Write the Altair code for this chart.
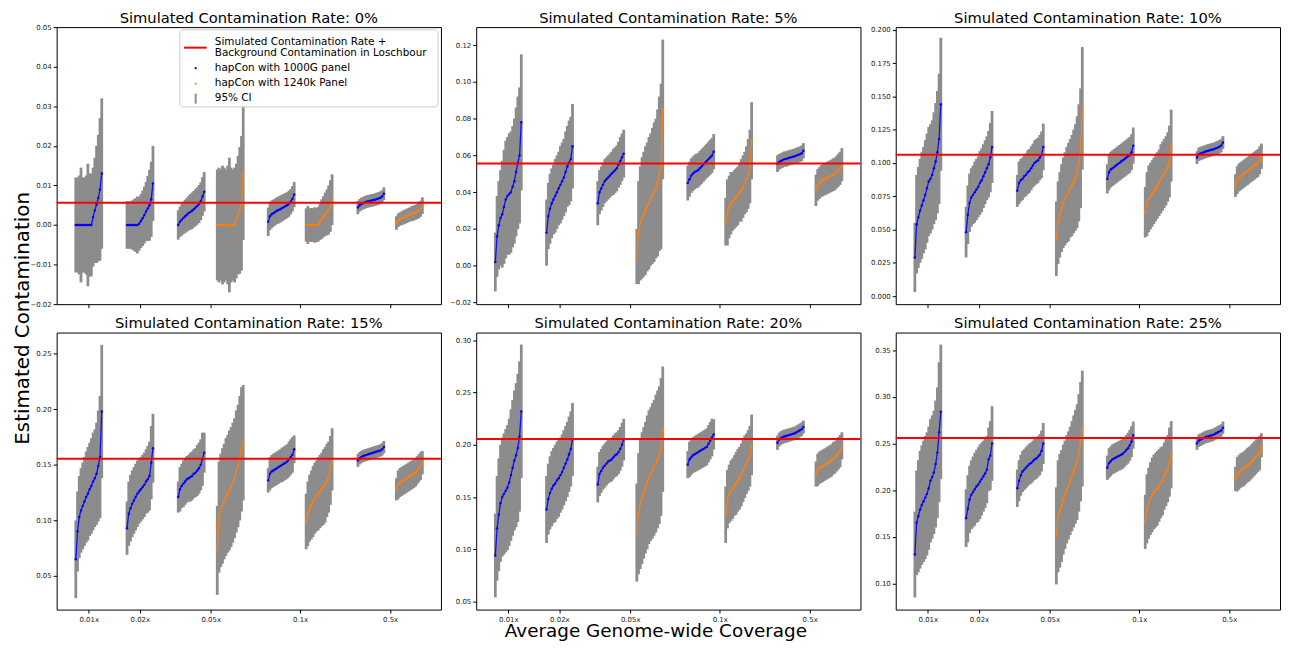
import altair as alt
import pandas as pd

# ---------------- data ----------------
rates = [0, 5, 10, 15, 20, 25]
red_levels = [0.0056, 0.0556, 0.1061, 0.1556, 0.2056, 0.2560]

coverage_labels = ["0.01x", "0.02x", "0.05x", "0.1x", "0.5x"]
coverage_ticks = [50, 234.5, 490.5, 813.5, 1138.5]
group_coverage = ["0.01x", "0.02x", "0.05x", "0.05x", "0.1x", "0.1x", "0.5x", "0.5x"]
group_panel = ["1000G", "1000G", "1000G", "1240k", "1000G", "1240k", "1000G", "1240k"]
group_offset = [0, 185, 370, 511, 695, 832, 1019, 1158]
n_per_group = 16

EST_00 = [
    [0, 0, 0, 0, 0, 0, 0, 0, 0, 0, 0.002, 0.0037, 0.0052, 0.0068, 0.009, 0.013],
    [0, 0, 0, 0, 0, 0, 0, 0.0003, 0.001, 0.0017, 0.0025, 0.0034, 0.0042, 0.005, 0.0065, 0.0105],
    [0.0, 0.0008, 0.0013, 0.0018, 0.0022, 0.0026, 0.003, 0.0033, 0.0036, 0.004, 0.0044, 0.0048, 0.0053, 0.006, 0.0072, 0.0084],
    [0, 0, 0, 0, 0, 0, 0, 0, 0, 0, 0, 0.001, 0.0025, 0.0037, 0.0055, 0.0132],
    [0.0008, 0.0022, 0.0027, 0.003, 0.0033, 0.0036, 0.0038, 0.004, 0.0043, 0.0045, 0.0048, 0.005, 0.0054, 0.0059, 0.0066, 0.0077],
    [0, 0, 0, 0, 0, 0, 0, 0.0002, 0.0008, 0.0015, 0.0021, 0.0027, 0.0032, 0.0038, 0.0048, 0.0064],
    [0.0044, 0.005, 0.0053, 0.0055, 0.0057, 0.0059, 0.006, 0.0061, 0.0062, 0.0063, 0.0064, 0.0066, 0.0067, 0.0069, 0.0072, 0.0079],
    [0.0005, 0.0012, 0.0015, 0.0017, 0.0019, 0.0021, 0.0023, 0.0025, 0.0027, 0.0029, 0.003, 0.0032, 0.0034, 0.0037, 0.0041, 0.0049],
]
HW_00 = [
    [0.012, 0.012, 0.0125, 0.0145, 0.012, 0.012, 0.0125, 0.0155, 0.013, 0.013, 0.0125, 0.0133, 0.0148, 0.016, 0.018, 0.019],
    [0.006, 0.006, 0.006, 0.0062, 0.0065, 0.0068, 0.0072, 0.0068, 0.0068, 0.007, 0.0072, 0.0075, 0.0082, 0.009, 0.0095, 0.0095],
    [0.0037, 0.0038, 0.004, 0.0041, 0.0042, 0.0043, 0.0044, 0.0045, 0.0046, 0.0046, 0.0047, 0.0047, 0.0048, 0.0048, 0.0049, 0.005],
    [0.014, 0.0145, 0.014, 0.015, 0.0145, 0.014, 0.015, 0.017, 0.0145, 0.014, 0.0145, 0.0145, 0.015, 0.016, 0.017, 0.017],
    [0.0036, 0.0035, 0.0035, 0.0034, 0.0034, 0.0034, 0.0034, 0.0034, 0.0034, 0.0033, 0.0033, 0.0033, 0.0033, 0.0032, 0.0032, 0.0032],
    [0.0042, 0.0048, 0.0042, 0.0043, 0.0042, 0.0045, 0.0043, 0.0044, 0.0046, 0.005, 0.0052, 0.0055, 0.0058, 0.0062, 0.0065, 0.0064],
    [0.0017, 0.0016, 0.0016, 0.0016, 0.0016, 0.0016, 0.0016, 0.0016, 0.0016, 0.0016, 0.0016, 0.0016, 0.0016, 0.0016, 0.0016, 0.0016],
    [0.0017, 0.0017, 0.0017, 0.0017, 0.0018, 0.0018, 0.0018, 0.0018, 0.0018, 0.0019, 0.0019, 0.0019, 0.0019, 0.002, 0.002, 0.0021],
]

EST_05 = [
    [0.002, 0.016, 0.022, 0.026, 0.028, 0.032, 0.036, 0.038, 0.039, 0.040, 0.043, 0.046, 0.051, 0.056, 0.060, 0.078],
    [0.018, 0.027, 0.031, 0.034, 0.036, 0.038, 0.040, 0.042, 0.044, 0.046, 0.048, 0.051, 0.054, 0.056, 0.058, 0.065],
    [0.034, 0.040, 0.042, 0.044, 0.046, 0.047, 0.048, 0.049, 0.050, 0.051, 0.052, 0.053, 0.055, 0.057, 0.059, 0.061],
    [0.005, 0.018, 0.023, 0.026, 0.028, 0.030, 0.032, 0.034, 0.036, 0.038, 0.040, 0.042, 0.045, 0.050, 0.054, 0.085],
    [0.045, 0.047, 0.049, 0.050, 0.051, 0.0515, 0.052, 0.053, 0.054, 0.055, 0.056, 0.057, 0.058, 0.059, 0.060, 0.062],
    [0.024, 0.029, 0.032, 0.034, 0.035, 0.036, 0.037, 0.038, 0.040, 0.041, 0.043, 0.045, 0.047, 0.050, 0.054, 0.068],
    [0.0555, 0.0565, 0.057, 0.0575, 0.058, 0.058, 0.0585, 0.0588, 0.059, 0.0593, 0.0596, 0.06, 0.0603, 0.0607, 0.0612, 0.0625],
    [0.041, 0.044, 0.045, 0.046, 0.0465, 0.047, 0.0475, 0.048, 0.0485, 0.049, 0.0495, 0.050, 0.051, 0.052, 0.053, 0.055],
]
HW_05 = [
    [0.016, 0.022, 0.024, 0.026, 0.029, 0.031, 0.032, 0.032, 0.033, 0.033, 0.033, 0.034, 0.035, 0.036, 0.037, 0.037],
    [0.018, 0.018, 0.019, 0.019, 0.019, 0.02, 0.02, 0.02, 0.021, 0.021, 0.021, 0.022, 0.022, 0.023, 0.023, 0.023],
    [0.012, 0.012, 0.012, 0.012, 0.012, 0.012, 0.012, 0.012, 0.012, 0.0125, 0.0125, 0.0125, 0.0125, 0.013, 0.013, 0.013],
    [0.015, 0.028, 0.031, 0.033, 0.034, 0.035, 0.035, 0.036, 0.036, 0.037, 0.038, 0.038, 0.04, 0.042, 0.045, 0.038],
    [0.0095, 0.0095, 0.0094, 0.0094, 0.0094, 0.0094, 0.0094, 0.0094, 0.0094, 0.0094, 0.0094, 0.0094, 0.0095, 0.0095, 0.0095, 0.0096],
    [0.013, 0.018, 0.017, 0.017, 0.016, 0.016, 0.016, 0.016, 0.016, 0.017, 0.017, 0.017, 0.018, 0.019, 0.02, 0.021],
    [0.0045, 0.0043, 0.0042, 0.0042, 0.0042, 0.0042, 0.0042, 0.0042, 0.0042, 0.0042, 0.0042, 0.0042, 0.0042, 0.0042, 0.0043, 0.0042],
    [0.0085, 0.0086, 0.0086, 0.0087, 0.0087, 0.0087, 0.0088, 0.0088, 0.0088, 0.0088, 0.0089, 0.0089, 0.0089, 0.009, 0.009, 0.009],
]

EST_10 = [
    [0.029, 0.054, 0.059, 0.064, 0.068, 0.072, 0.076, 0.081, 0.086, 0.088, 0.091, 0.096, 0.101, 0.108, 0.118, 0.144],
    [0.048, 0.061, 0.070, 0.074, 0.076, 0.078, 0.080, 0.082, 0.085, 0.087, 0.090, 0.093, 0.096, 0.099, 0.104, 0.112],
    [0.079, 0.085, 0.087, 0.088, 0.090, 0.091, 0.093, 0.094, 0.096, 0.098, 0.100, 0.101, 0.102, 0.104, 0.106, 0.112],
    [0.043, 0.055, 0.061, 0.066, 0.070, 0.073, 0.076, 0.078, 0.081, 0.083, 0.086, 0.089, 0.093, 0.100, 0.111, 0.141],
    [0.088, 0.093, 0.095, 0.096, 0.097, 0.098, 0.099, 0.100, 0.101, 0.102, 0.103, 0.104, 0.105, 0.106, 0.108, 0.113],
    [0.063, 0.069, 0.073, 0.075, 0.077, 0.079, 0.081, 0.083, 0.085, 0.088, 0.090, 0.092, 0.094, 0.097, 0.101, 0.113],
    [0.104, 0.1065, 0.107, 0.1075, 0.108, 0.1085, 0.109, 0.1093, 0.1097, 0.110, 0.1105, 0.111, 0.1115, 0.1122, 0.113, 0.1153],
    [0.083, 0.087, 0.089, 0.090, 0.091, 0.092, 0.093, 0.094, 0.095, 0.096, 0.097, 0.098, 0.099, 0.100, 0.102, 0.105],
]
HW_10 = [
    [0.026, 0.037, 0.038, 0.039, 0.04, 0.04, 0.041, 0.041, 0.041, 0.041, 0.041, 0.042, 0.044, 0.046, 0.049, 0.05],
    [0.019, 0.022, 0.022, 0.022, 0.022, 0.023, 0.023, 0.023, 0.024, 0.024, 0.024, 0.024, 0.024, 0.025, 0.026, 0.027],
    [0.012, 0.016, 0.016, 0.016, 0.016, 0.016, 0.0165, 0.0165, 0.0165, 0.0165, 0.017, 0.017, 0.017, 0.017, 0.0175, 0.0175],
    [0.028, 0.031, 0.032, 0.033, 0.034, 0.035, 0.036, 0.037, 0.037, 0.038, 0.039, 0.040, 0.042, 0.044, 0.045, 0.046],
    [0.011, 0.0135, 0.0134, 0.0134, 0.0134, 0.0134, 0.0134, 0.0134, 0.0134, 0.0134, 0.0134, 0.0134, 0.0135, 0.0135, 0.0135, 0.0136],
    [0.019, 0.024, 0.025, 0.025, 0.025, 0.025, 0.025, 0.025, 0.025, 0.026, 0.026, 0.026, 0.026, 0.026, 0.027, 0.027],
    [0.0048, 0.005, 0.005, 0.005, 0.005, 0.005, 0.005, 0.005, 0.005, 0.005, 0.005, 0.005, 0.005, 0.005, 0.005, 0.0048],
    [0.0085, 0.0105, 0.0105, 0.0105, 0.0105, 0.0105, 0.0105, 0.0105, 0.0105, 0.0105, 0.0105, 0.0105, 0.0105, 0.0105, 0.0105, 0.0095],
]

EST_15 = [
    [0.065, 0.090, 0.103, 0.109, 0.113, 0.117, 0.121, 0.124, 0.128, 0.131, 0.135, 0.138, 0.142, 0.149, 0.157, 0.198],
    [0.093, 0.106, 0.111, 0.115, 0.118, 0.121, 0.124, 0.126, 0.128, 0.130, 0.132, 0.135, 0.137, 0.140, 0.152, 0.165],
    [0.121, 0.128, 0.131, 0.133, 0.135, 0.137, 0.138, 0.139, 0.140, 0.142, 0.143, 0.145, 0.147, 0.150, 0.155, 0.161],
    [0.073, 0.103, 0.109, 0.113, 0.117, 0.121, 0.124, 0.127, 0.130, 0.134, 0.138, 0.144, 0.149, 0.156, 0.164, 0.170],
    [0.136, 0.142, 0.144, 0.145, 0.146, 0.147, 0.148, 0.149, 0.150, 0.151, 0.152, 0.153, 0.155, 0.157, 0.159, 0.164],
    [0.099, 0.106, 0.111, 0.114, 0.117, 0.120, 0.122, 0.124, 0.126, 0.128, 0.130, 0.132, 0.136, 0.139, 0.145, 0.155],
    [0.154, 0.156, 0.157, 0.158, 0.1585, 0.159, 0.1595, 0.160, 0.1605, 0.161, 0.1615, 0.162, 0.1625, 0.163, 0.164, 0.166],
    [0.128, 0.132, 0.134, 0.135, 0.136, 0.137, 0.138, 0.139, 0.140, 0.141, 0.142, 0.143, 0.145, 0.147, 0.149, 0.152],
]
HW_15 = [
    [0.035, 0.036, 0.037, 0.038, 0.039, 0.040, 0.041, 0.042, 0.042, 0.043, 0.044, 0.044, 0.046, 0.05, 0.055, 0.06],
    [0.024, 0.029, 0.03, 0.03, 0.03, 0.03, 0.03, 0.029, 0.029, 0.029, 0.029, 0.029, 0.03, 0.031, 0.033, 0.031],
    [0.014, 0.02, 0.02, 0.021, 0.021, 0.021, 0.021, 0.022, 0.022, 0.022, 0.022, 0.023, 0.023, 0.023, 0.024, 0.018],
    [0.04, 0.05, 0.051, 0.052, 0.052, 0.053, 0.053, 0.054, 0.054, 0.054, 0.054, 0.055, 0.055, 0.056, 0.056, 0.052],
    [0.011, 0.015, 0.015, 0.015, 0.015, 0.015, 0.015, 0.015, 0.0155, 0.0155, 0.0155, 0.0155, 0.016, 0.016, 0.016, 0.0125],
    [0.025, 0.029, 0.03, 0.031, 0.032, 0.032, 0.032, 0.033, 0.033, 0.033, 0.034, 0.034, 0.033, 0.032, 0.031, 0.028],
    [0.0058, 0.0056, 0.0055, 0.0055, 0.0055, 0.0055, 0.0055, 0.0055, 0.0055, 0.0055, 0.0055, 0.0055, 0.0055, 0.0055, 0.0056, 0.0056],
    [0.01, 0.013, 0.013, 0.013, 0.013, 0.013, 0.013, 0.013, 0.013, 0.013, 0.0128, 0.0128, 0.0127, 0.0126, 0.0125, 0.0105],
]

EST_20 = [
    [0.094, 0.120, 0.133, 0.144, 0.150, 0.153, 0.156, 0.159, 0.164, 0.171, 0.178, 0.185, 0.190, 0.197, 0.208, 0.232],
    [0.138, 0.148, 0.154, 0.158, 0.161, 0.163, 0.166, 0.168, 0.171, 0.174, 0.178, 0.182, 0.186, 0.191, 0.196, 0.205],
    [0.162, 0.172, 0.175, 0.178, 0.180, 0.182, 0.184, 0.185, 0.186, 0.188, 0.190, 0.191, 0.193, 0.196, 0.200, 0.205],
    [0.116, 0.134, 0.143, 0.149, 0.154, 0.159, 0.164, 0.169, 0.172, 0.175, 0.178, 0.182, 0.186, 0.190, 0.198, 0.215],
    [0.181, 0.186, 0.188, 0.190, 0.191, 0.192, 0.193, 0.194, 0.195, 0.196, 0.197, 0.198, 0.201, 0.204, 0.207, 0.210],
    [0.133, 0.148, 0.153, 0.156, 0.158, 0.161, 0.163, 0.166, 0.168, 0.171, 0.175, 0.179, 0.182, 0.185, 0.189, 0.200],
    [0.202, 0.205, 0.2065, 0.2075, 0.208, 0.2085, 0.209, 0.2095, 0.210, 0.2105, 0.211, 0.212, 0.213, 0.214, 0.215, 0.217],
    [0.172, 0.176, 0.178, 0.179, 0.180, 0.181, 0.182, 0.183, 0.184, 0.185, 0.187, 0.188, 0.190, 0.192, 0.194, 0.199],
]
HW_20 = [
    [0.04, 0.05, 0.054, 0.056, 0.057, 0.058, 0.059, 0.06, 0.061, 0.063, 0.065, 0.067, 0.069, 0.071, 0.072, 0.064],
    [0.032, 0.034, 0.035, 0.036, 0.036, 0.037, 0.037, 0.037, 0.036, 0.036, 0.036, 0.036, 0.036, 0.036, 0.036, 0.035],
    [0.017, 0.021, 0.021, 0.021, 0.021, 0.021, 0.021, 0.021, 0.021, 0.021, 0.021, 0.021, 0.021, 0.021, 0.021, 0.02],
    [0.047, 0.058, 0.062, 0.063, 0.063, 0.063, 0.064, 0.064, 0.064, 0.065, 0.065, 0.066, 0.066, 0.066, 0.066, 0.06],
    [0.013, 0.017, 0.017, 0.0172, 0.0172, 0.0174, 0.0174, 0.0175, 0.0175, 0.0176, 0.0176, 0.0177, 0.0178, 0.018, 0.018, 0.0145],
    [0.027, 0.028, 0.028, 0.029, 0.029, 0.029, 0.03, 0.03, 0.03, 0.03, 0.03, 0.03, 0.029, 0.029, 0.029, 0.029],
    [0.0068, 0.0066, 0.0065, 0.0065, 0.0065, 0.0065, 0.0065, 0.0065, 0.0065, 0.0065, 0.0065, 0.0065, 0.0065, 0.0065, 0.0065, 0.0062],
    [0.012, 0.0155, 0.0155, 0.0155, 0.0155, 0.0155, 0.0155, 0.0155, 0.0155, 0.0155, 0.0155, 0.0155, 0.0155, 0.0155, 0.0155, 0.013],
]

EST_25 = [
    [0.131, 0.165, 0.172, 0.179, 0.184, 0.188, 0.192, 0.196, 0.202, 0.210, 0.214, 0.219, 0.228, 0.240, 0.262, 0.284],
    [0.170, 0.180, 0.190, 0.195, 0.198, 0.201, 0.204, 0.206, 0.209, 0.212, 0.215, 0.218, 0.222, 0.233, 0.237, 0.250],
    [0.202, 0.210, 0.216, 0.220, 0.222, 0.224, 0.226, 0.228, 0.229, 0.231, 0.233, 0.234, 0.236, 0.238, 0.242, 0.250],
    [0.151, 0.172, 0.178, 0.183, 0.190, 0.195, 0.201, 0.205, 0.210, 0.215, 0.220, 0.225, 0.230, 0.240, 0.252, 0.266],
    [0.224, 0.229, 0.231, 0.233, 0.234, 0.235, 0.236, 0.237, 0.238, 0.239, 0.241, 0.243, 0.245, 0.248, 0.252, 0.259],
    [0.166, 0.180, 0.186, 0.191, 0.195, 0.198, 0.200, 0.202, 0.205, 0.208, 0.210, 0.215, 0.219, 0.223, 0.230, 0.238],
    [0.250, 0.253, 0.254, 0.255, 0.256, 0.257, 0.2575, 0.258, 0.2585, 0.259, 0.260, 0.261, 0.262, 0.263, 0.264, 0.267],
    [0.212, 0.217, 0.219, 0.221, 0.222, 0.223, 0.225, 0.227, 0.228, 0.230, 0.232, 0.234, 0.236, 0.238, 0.240, 0.248],
]
HW_25 = [
    [0.046, 0.056, 0.06, 0.063, 0.064, 0.065, 0.066, 0.066, 0.066, 0.066, 0.066, 0.066, 0.068, 0.07, 0.075, 0.072],
    [0.031, 0.036, 0.036, 0.037, 0.038, 0.039, 0.039, 0.04, 0.04, 0.039, 0.038, 0.037, 0.036, 0.034, 0.037, 0.04],
    [0.02, 0.022, 0.022, 0.022, 0.022, 0.022, 0.022, 0.022, 0.022, 0.022, 0.022, 0.022, 0.022, 0.022, 0.022, 0.022],
    [0.052, 0.06, 0.061, 0.06, 0.059, 0.058, 0.058, 0.058, 0.058, 0.059, 0.06, 0.061, 0.062, 0.063, 0.064, 0.062],
    [0.013, 0.016, 0.016, 0.016, 0.016, 0.016, 0.016, 0.016, 0.016, 0.016, 0.016, 0.016, 0.0165, 0.0165, 0.0165, 0.0145],
    [0.029, 0.037, 0.038, 0.039, 0.04, 0.04, 0.04, 0.04, 0.039, 0.038, 0.037, 0.036, 0.036, 0.036, 0.037, 0.036],
    [0.0068, 0.0067, 0.0067, 0.0067, 0.0067, 0.0067, 0.0067, 0.0067, 0.0067, 0.0067, 0.0067, 0.0067, 0.0067, 0.0067, 0.0067, 0.0066],
    [0.013, 0.0185, 0.0185, 0.0185, 0.0185, 0.0185, 0.0185, 0.0185, 0.0185, 0.0185, 0.0185, 0.0185, 0.0185, 0.0185, 0.0185, 0.013],
]

EST = [EST_00, EST_05, EST_10, EST_15, EST_20, EST_25]
HW = [HW_00, HW_05, HW_10, HW_15, HW_20, HW_25]

y_domains = [[-0.02, 0.05], [-0.0209, 0.1298], [-0.0061, 0.2020],
             [0.0197, 0.2691], [0.0422, 0.3075], [0.072, 0.3689]]
y_ticks = [
    [-0.02, -0.01, 0.0, 0.01, 0.02, 0.03, 0.04, 0.05],
    [-0.02, 0.0, 0.02, 0.04, 0.06, 0.08, 0.10, 0.12],
    [0.0, 0.025, 0.05, 0.075, 0.1, 0.125, 0.15, 0.175, 0.2],
    [0.05, 0.10, 0.15, 0.20, 0.25],
    [0.05, 0.10, 0.15, 0.20, 0.25, 0.30],
    [0.10, 0.15, 0.20, 0.25, 0.30, 0.35],
]
y_formats = [".2f", ".2f", ".3f", ".2f", ".2f", ".2f"]

legend_labels = ["Simulated Contamination Rate +", "\u00a0Background Contamination in Loschbour",
                 "hapCon with 1000G panel", "hapCon with 1240k Panel", "95% CI"]
y_title = "Estimated Contamination"
x_title = "Average Genome-wide Coverage"

# ---------------- style ----------------
FONT = "DejaVu Sans"
BLUE = "#0000ff"
ORANGE = "#ff7f0e"
GRAY = "#8c8c8c"
RED = "#ff0000"
PANEL_W = 387
PANEL_H = 279
ROW_GAP = 28.6
X_DOMAIN = [-66, 1322]

label_expr = " : ".join(
    f"datum.value == {p} ? '{l}'" for p, l in zip(coverage_ticks, coverage_labels)
) + " : ''"


def make_df(k):
    rows = []
    step = 100.0 / n_per_group
    for g in range(8):
        for i in range(n_per_group):
            e = EST[k][g][i]
            h = HW[k][g][i]
            x0 = group_offset[g] + i * step
            rows.append({
                "x": x0 + 0.5 * step,
                "x0": x0 - 0.3 * step, "x1": x0 + 1.3 * step,
                "est": e, "lo": e - h, "hi": e + h, "grp": g,
                "panel": group_panel[g], "coverage": group_coverage[g],
            })
    return pd.DataFrame(rows)


def text_layer(txt, x, y, size, angle=0, align="center"):
    return alt.Chart(pd.DataFrame({"t": [txt]})).mark_text(
        font=FONT, fontSize=size, align=align, baseline="alphabetic", color="black", angle=angle
    ).encode(text="t:N", x=alt.value(x), y=alt.value(y))


def legend_layers():
    one = pd.DataFrame({"t": [""]})
    box = alt.Chart(one).mark_rect(fill="white", fillOpacity=0.8, stroke="#cccccc",
                                   strokeWidth=1, cornerRadius=3).encode(
        x=alt.value(124), x2=alt.value(384), y=alt.value(2.7), y2=alt.value(80.4))
    redl = alt.Chart(one).mark_rule(color=RED, strokeWidth=2).encode(
        x=alt.value(128.3), x2=alt.value(151), y=alt.value(20.7))
    bdot = alt.Chart(one).mark_square(color=BLUE, size=4, opacity=1).encode(
        x=alt.value(140), y=alt.value(41.4))
    odot = alt.Chart(one).mark_square(color=ORANGE, size=4, opacity=0.85).encode(
        x=alt.value(140), y=alt.value(57))
    gbar = alt.Chart(one).mark_rule(color=GRAY, strokeWidth=2).encode(
        x=alt.value(140), y=alt.value(67), y2=alt.value(77))
    baselines = [17.7, 28.9, 43.9, 59.7, 74.9]
    texts = [text_layer(lab, 159.3, by, 10.5, align="left")
             for lab, by in zip(legend_labels, baselines)]
    return [box, redl, bdot, odot, gbar] + texts


def panel(k):
    row = k // 3
    df = make_df(k)
    xaxis_kw = dict(values=coverage_ticks, tickCount=20, tickSize=3.5, tickColor="black",
                    domain=False, grid=False, labelFont=FONT, labelFontSize=7,
                    labelColor="#222222", labelPadding=2, labelExpr=label_expr,
                    labels=(row == 1), title=None, labelOverlap=False)
    yaxis_kw = dict(values=y_ticks[k], tickCount=20, format=y_formats[k], tickSize=3.5,
                    tickColor="black", domain=False, grid=False, labelFont=FONT, labelFontSize=7,
                    labelColor="#222222", labelPadding=2, title=None, labelOverlap=False)
    xs = alt.Scale(domain=X_DOMAIN, nice=False, zero=False)
    ys = alt.Scale(domain=y_domains[k], nice=False, zero=False)
    base = alt.Chart(df)
    bars = base.mark_rect(color=GRAY).encode(
        x=alt.X("x0:Q", scale=xs, axis=alt.Axis(**xaxis_kw)),
        x2="x1:Q",
        y=alt.Y("lo:Q", scale=ys, axis=alt.Axis(**yaxis_kw)),
        y2="hi:Q",
    )
    color = alt.Color("panel:N", scale=alt.Scale(domain=["1000G", "1240k"], range=[BLUE, ORANGE]),
                      legend=None)
    line = base.mark_line(strokeWidth=1.3, opacity=0.9).encode(
        x=alt.X("x:Q", scale=xs), y=alt.Y("est:Q", scale=ys), color=color, detail="grp:N")
    pts = base.mark_circle(size=6, opacity=1).encode(
        x=alt.X("x:Q", scale=xs), y=alt.Y("est:Q", scale=ys), color=color)
    red = alt.Chart(pd.DataFrame({"level": [red_levels[k]]})).mark_rule(
        color=RED, strokeWidth=2).encode(y=alt.Y("level:Q", scale=ys))
    title = text_layer(f"Simulated Contamination Rate: {rates[k]}%", PANEL_W / 2, -4.3, 14.8)
    layers = [bars, line, pts, red, title]
    if k == 0:
        layers += legend_layers()
    if k == 3:
        layers.append(text_layer(y_title, -27.5, -ROW_GAP / 2, 20, angle=270))
    if k == 4:
        layers.append(text_layer(x_title, 181, PANEL_H + 27.5, 18.5))
    return alt.layer(*layers).properties(width=PANEL_W, height=PANEL_H)


chart = alt.concat(*[panel(k) for k in range(6)], columns=3,
                   spacing={"row": ROW_GAP, "column": 35.5}, bounds="flush").properties(
    padding={"left": 4, "top": 0, "right": 0, "bottom": 0}
).configure_view(stroke="black", strokeWidth=1)

chart.save("out.html", embed_options={"renderer": "svg", "actions": False})
